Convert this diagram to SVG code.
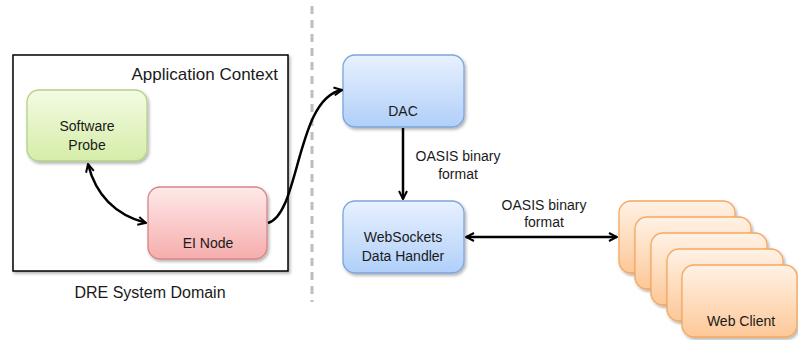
<svg xmlns="http://www.w3.org/2000/svg" width="798" height="340" viewBox="0 0 798 340">
<defs>
<linearGradient id="gGreen" x1="0" y1="0" x2="0" y2="1"><stop offset="0" stop-color="#f3fbe3"/><stop offset="1" stop-color="#d5eda8"/></linearGradient>
<linearGradient id="gRed" x1="0" y1="0" x2="0" y2="1"><stop offset="0" stop-color="#fee9e9"/><stop offset="1" stop-color="#f6adad"/></linearGradient>
<linearGradient id="gBlue" x1="0" y1="0" x2="0" y2="1"><stop offset="0" stop-color="#e8f1ff"/><stop offset="1" stop-color="#b0cff9"/></linearGradient>
<linearGradient id="gOrange" x1="0" y1="0" x2="0" y2="1"><stop offset="0" stop-color="#fff2e5"/><stop offset="1" stop-color="#fdc898"/></linearGradient>
<filter id="shadow" x="-10%" y="-10%" width="130%" height="130%"><feDropShadow dx="1.5" dy="2" stdDeviation="1.5" flood-color="#000" flood-opacity="0.3"/></filter>
<marker id="arrow" viewBox="0 0 10 10" refX="9" refY="5" markerWidth="4" markerHeight="4" orient="auto-start-reverse" markerUnits="strokeWidth">
<path d="M1,1 L9,5 L1,9" fill="none" stroke="#000" stroke-width="2"/>
</marker>
</defs>
<style>
text{font-family:"Liberation Sans",Arial,sans-serif;fill:#1a1a1a;}
.n{font-size:14px;text-anchor:middle;}
.lbl{font-size:14px;text-anchor:middle;}
.conn{fill:none;stroke:#000;stroke-width:2.5;}
.box{stroke-width:1.3;filter:url(#shadow);}
</style>
<rect width="798" height="340" fill="#fff"/>
<g id="divider"><line x1="312" y1="6" x2="312" y2="302" stroke="#bdbdbd" stroke-width="3" stroke-dasharray="8,6"/></g>
<g id="dre-domain">
<rect x="13" y="55" width="275" height="216" fill="#fff" stroke="#000" stroke-width="1.5" filter="url(#shadow)"/>
<text x="278" y="80" font-size="17" text-anchor="end">Application Context</text>
<text x="150" y="298" font-size="16" text-anchor="middle">DRE System Domain</text>
</g>
<g id="software-probe">
<rect class="box" x="27" y="90" width="120" height="71" rx="12" fill="url(#gGreen)" stroke="#b3d18a"/>
<text class="n" x="87" y="131">Software</text>
<text class="n" x="87" y="150">Probe</text>
</g>
<g id="ei-node">
<rect class="box" x="148" y="187" width="119" height="72" rx="12" fill="url(#gRed)" stroke="#d98585"/>
<text class="n" x="208" y="248">EI Node</text>
</g>
<g id="dac">
<rect class="box" x="343" y="55" width="121" height="72" rx="12" fill="url(#gBlue)" stroke="#7ba5da"/>
<text class="n" x="403" y="116">DAC</text>
</g>
<g id="websockets">
<rect class="box" x="343" y="201" width="121" height="72" rx="12" fill="url(#gBlue)" stroke="#7ba5da"/>
<text class="n" x="403" y="242">WebSockets</text>
<text class="n" x="403" y="261">Data Handler</text>
</g>
<g id="web-clients">
<rect class="box" x="619" y="201" width="116" height="72" rx="12" fill="url(#gOrange)" stroke="#f4a860"/>
<rect class="box" x="635" y="217" width="116" height="72" rx="12" fill="url(#gOrange)" stroke="#f4a860"/>
<rect class="box" x="651" y="233" width="116" height="72" rx="12" fill="url(#gOrange)" stroke="#f4a860"/>
<rect class="box" x="667" y="249" width="116" height="72" rx="12" fill="url(#gOrange)" stroke="#f4a860"/>
<rect class="box" x="682" y="265" width="115" height="72" rx="12" fill="url(#gOrange)" stroke="#f4a860"/>
<text class="n" x="741" y="326">Web Client</text>
</g>
<g id="connectors">
<path class="conn" d="M88,164 C96,196 116,215 146,223" marker-start="url(#arrow)" marker-end="url(#arrow)"/>
<path class="conn" d="M268,223 C300,214 296,98 342,90" marker-end="url(#arrow)"/>
<path class="conn" d="M403,128 L403,199" marker-end="url(#arrow)"/>
<path class="conn" d="M466,237 L617,237" marker-start="url(#arrow)" marker-end="url(#arrow)"/>
<text class="lbl" x="458" y="161">OASIS binary</text>
<text class="lbl" x="458" y="179">format</text>
<text class="lbl" x="544" y="210">OASIS binary</text>
<text class="lbl" x="544" y="227">format</text>
</g>
</svg>
